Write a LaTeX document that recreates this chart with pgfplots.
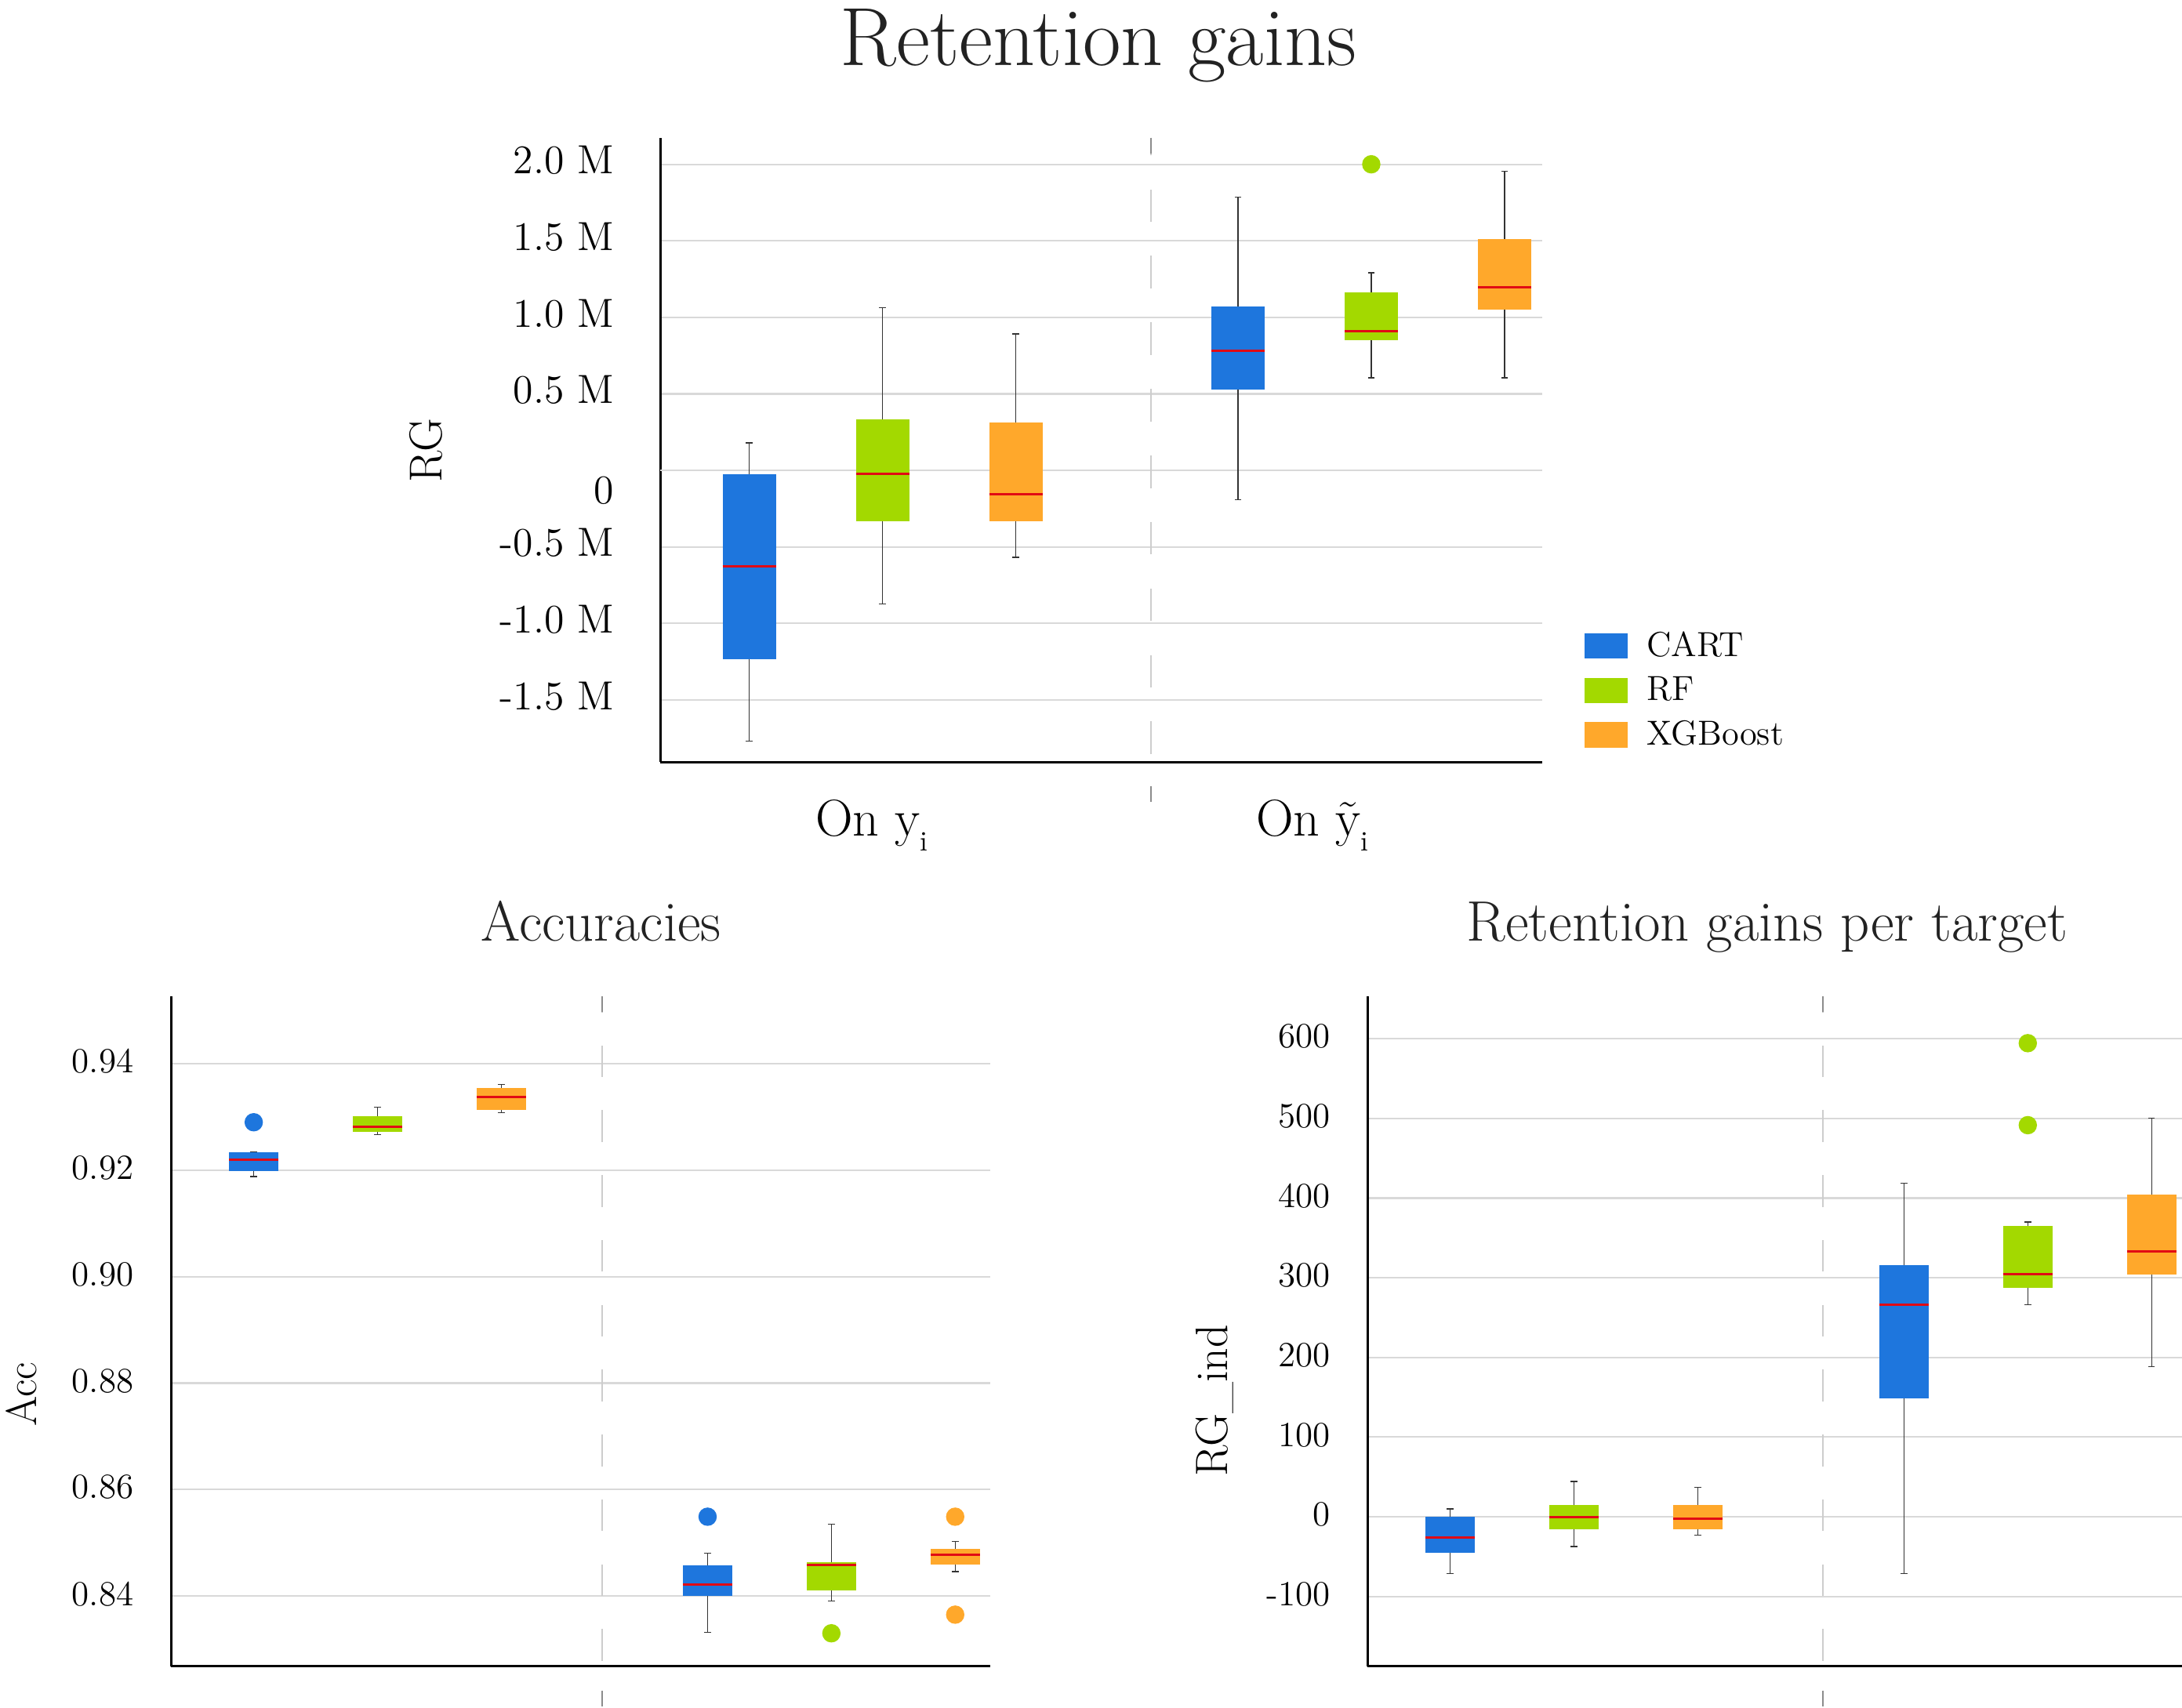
\documentclass[border=0pt]{standalone}
\usepackage{fontspec}
\usepackage{pgfplots}
\pgfplotsset{compat=1.18}
\definecolor{cartblue}{RGB}{30,118,221}
\definecolor{rfgreen}{RGB}{163,217,0}
\definecolor{xgborange}{RGB}{255,168,43}
\definecolor{medred}{RGB}{225,10,20}
\definecolor{gridgray}{RGB}{217,217,217}
\definecolor{sepgray}{RGB}{205,205,205}
\definecolor{textgray}{RGB}{34,34,34}
\newcommand{\sub}[1]{\raisebox{-5.4pt}{\fontsize{10}{11}\selectfont #1}}
% box left edge, centre, right edge, lower whisker, lower quartile, median, upper quartile, upper whisker, colour
\newcommand{\bx}[9]{%
  \addplot[whisk] coordinates {(#2,#7) (#2,#8)};
  \addplot[whisk] coordinates {(#2,#5) (#2,#4)};
  \addplot[forget plot, draw=none, fill=#9] coordinates {(#1,#5) (#3,#5) (#3,#7) (#1,#7)};
  \addplot[forget plot, medred, line width=0.85pt, mark=none] coordinates {(#1,#6) (#3,#6)};
}
\pgfplotsset{myaxis/.style={scale only axis, anchor=south west, clip=false,
    axis x line*=bottom, axis y line*=left,
    axis line style={black, line width=0.8pt},
    major tick length=0pt, ymajorgrids,
    major grid style={gridgray, line width=0.6pt},
    xmin=0, tick label style={text=black},
    yticklabel style={inner sep=0pt, anchor=east}},
  whisk/.style={forget plot, black!80, line width=0.35pt, mark=-, mark indices={2},
    mark size=1.2pt, mark options={solid, black!80, line width=0.35pt}},
  outl/.style={forget plot, only marks, mark=*, mark size=3.1pt, draw=#1, fill=#1}}
\begin{document}
\begin{tikzpicture}
% ---------------- top: Retention gains ----------------
\begin{axis}[myaxis, at={(237.27pt,-273.86pt)}, width=316.79pt, height=224.39pt,
  xmax=6.615, ymin=-1.906, ymax=2.174,
  ytick={-1.5,-1,-0.5,0.5,1,1.5,2},
  yticklabels={-1.5 M,-1.0 M,-0.5 M,0.5 M,1.0 M,1.5 M,2.0 M},
  extra y ticks={0}, extra y tick labels={0},
  extra y tick style={grid=major, yticklabel style={yshift=-8.6pt}},
  yticklabel style={font=\fontsize{14.6}{17}\selectfont, xshift=-16.5pt, yshift=1.4pt},
  xtick={1.586,4.89},
  xticklabels={On y\sub{i}, On \~y\sub{i}},
  xticklabel style={font=\fontsize{18.6}{21}\selectfont, inner sep=0pt, anchor=base, yshift=-26.6pt},
  legend style={draw=none, fill=none, inner sep=0pt, outer sep=0pt,
    at={(axis description cs:1.0477,0.2094)}, anchor=north west,
    row sep=5.8pt, column sep=6.8pt, font=\fontsize{12.5}{15}\selectfont,
    nodes={inner sep=0pt}, cells={anchor=west}},
  legend image code/.code={\fill[#1] (0pt,-4.55pt) rectangle (15.6pt,4.55pt);}]
\draw[sepgray, line width=0.5pt, dash pattern=on 11.7pt off 12.2pt, dash phase=21pt] (axis cs:3.68,-1.906) -- (axis cs:3.68,2.174);
\draw[black!45, line width=0.6pt] (axis cs:3.68,2.174) -- ++(0pt,-5.6pt);
\draw[black!45, line width=0.6pt] (axis cs:3.68,-1.906) ++(0pt,-8.7pt) -- ++(0pt,-5.6pt);
\bx{0.467}{0.667}{0.867}{-1.77}{-1.235}{-0.627}{-0.025}{0.18}{cartblue}
\bx{1.467}{1.667}{1.867}{-0.873}{-0.331}{-0.022}{0.334}{1.064}{rfgreen}
\bx{2.467}{2.667}{2.867}{-0.568}{-0.331}{-0.156}{0.312}{0.892}{xgborange}
\bx{4.133}{4.333}{4.533}{-0.19}{0.53}{0.783}{1.073}{1.787}{cartblue}
\bx{5.133}{5.333}{5.533}{0.605}{0.852}{0.908}{1.163}{1.291}{rfgreen}
\bx{6.133}{6.333}{6.533}{0.605}{1.048}{1.195}{1.513}{1.956}{xgborange}
\addplot[outl=rfgreen] coordinates {(5.333,2.0)};
\addlegendimage{fill=cartblue, draw=none}
\addlegendimage{fill=rfgreen, draw=none}
\addlegendimage{fill=xgborange, draw=none}
\legend{CART,RF,XGBoost}
\end{axis}
% ---------------- bottom left: Accuracies ----------------
\begin{axis}[myaxis, at={(61.49pt,-598.8pt)}, width=294.14pt, height=240.65pt,
  xmax=6.613, ymin=0.8268, ymax=0.9526, xtick=\empty,
  ytick={0.84,0.86,0.88,0.90,0.92,0.94},
  yticklabels={0.84,0.86,0.88,0.90,0.92,0.94},
  yticklabel style={font=\fontsize{12.7}{15}\selectfont, xshift=-13.3pt, yshift=0.8pt}]
\draw[sepgray, line width=0.5pt, dash pattern=on 11.4pt off 11.9pt, dash phase=21.3pt] (axis cs:3.483,0.8268) -- (axis cs:3.483,0.9526);
\draw[black!45, line width=0.6pt] (axis cs:3.483,0.9526) -- ++(0pt,-5.6pt);
\draw[black!45, line width=0.6pt] (axis cs:3.483,0.8268) ++(0pt,-8.7pt) -- ++(0pt,-5.6pt);
\bx{0.467}{0.667}{0.867}{0.9188}{0.9198}{0.9219}{0.9233}{0.9234}{cartblue}
\bx{1.467}{1.667}{1.867}{0.9267}{0.9272}{0.9281}{0.9301}{0.9318}{rfgreen}
\bx{2.467}{2.667}{2.867}{0.9308}{0.9313}{0.9338}{0.9355}{0.9361}{xgborange}
\bx{4.133}{4.333}{4.533}{0.8332}{0.8400}{0.8422}{0.8458}{0.8480}{cartblue}
\bx{5.133}{5.333}{5.533}{0.8391}{0.8410}{0.8459}{0.8463}{0.8535}{rfgreen}
\bx{6.133}{6.333}{6.533}{0.8446}{0.8459}{0.8478}{0.8488}{0.8503}{xgborange}
\addplot[outl=cartblue] coordinates {(0.667,0.9290) (4.333,0.8549)};
\addplot[outl=rfgreen] coordinates {(5.333,0.8330)};
\addplot[outl=xgborange] coordinates {(6.333,0.8549) (6.333,0.8365)};
\end{axis}
% ---------------- bottom right: Retention gains per target ----------------
\begin{axis}[myaxis, at={(491.32pt,-598.8pt)}, width=294.14pt, height=240.65pt,
  xmax=6.613, ymin=-187.6, ymax=652.8, xtick=\empty,
  ytick={-100,0,100,200,300,400,500,600},
  yticklabels={-100,0,100,200,300,400,500,600},
  yticklabel style={font=\fontsize{12.7}{15}\selectfont, xshift=-13.3pt, yshift=0.8pt}]
\draw[sepgray, line width=0.5pt, dash pattern=on 11.4pt off 11.9pt, dash phase=21.3pt] (axis cs:3.677,-187.6) -- (axis cs:3.677,652.8);
\draw[black!45, line width=0.6pt] (axis cs:3.677,652.8) -- ++(0pt,-5.6pt);
\draw[black!45, line width=0.6pt] (axis cs:3.677,-187.6) ++(0pt,-8.7pt) -- ++(0pt,-5.6pt);
\bx{0.467}{0.667}{0.867}{-71.3}{-45}{-26.3}{0}{9.9}{cartblue}
\bx{1.467}{1.667}{1.867}{-37.4}{-15.2}{0}{15.2}{44.4}{rfgreen}
\bx{2.467}{2.667}{2.867}{-22.8}{-15.2}{-2.3}{15.2}{36.8}{xgborange}
\bx{4.133}{4.333}{4.533}{-71.3}{148.4}{265.9}{315.6}{418.5}{cartblue}
\bx{5.133}{5.333}{5.533}{266.5}{287.5}{304.5}{365.3}{370}{rfgreen}
\bx{6.133}{6.333}{6.533}{188.8}{304.5}{332.6}{404.4}{500.3}{xgborange}
\addplot[outl=rfgreen] coordinates {(5.333,594.4) (5.333,491.5)};
\end{axis}
% ---------------- titles and axis labels ----------------
\node[font=\fontsize{29.7}{35}\selectfont, anchor=base, text=textgray, inner sep=0pt] at (394.65pt,-23.6pt) {Retention gains};
\node[font=\fontsize{20.4}{24}\selectfont, anchor=base, text=textgray, inner sep=0pt] at (215.97pt,-338.03pt) {Accuracies};
\node[font=\fontsize{20.5}{24}\selectfont, anchor=base, text=textgray, inner sep=0pt] at (634.93pt,-338.03pt) {Retention gains per target};
\node[font=\fontsize{16.6}{19}\selectfont, rotate=90, inner sep=0pt] at (152.96pt,-161.86pt) {RG};
\node[font=\fontsize{15.5}{18}\selectfont, rotate=90, inner sep=0pt] at (7.75pt,-501.13pt) {Acc};
\node[font=\fontsize{16.3}{19}\selectfont, rotate=90, inner sep=0pt] at (436.34pt,-503.32pt) {RG\_ind};
\pgfresetboundingbox
\path[use as bounding box] (0pt,0pt) rectangle (783.94pt,-613.52pt);
\end{tikzpicture}
\end{document}
